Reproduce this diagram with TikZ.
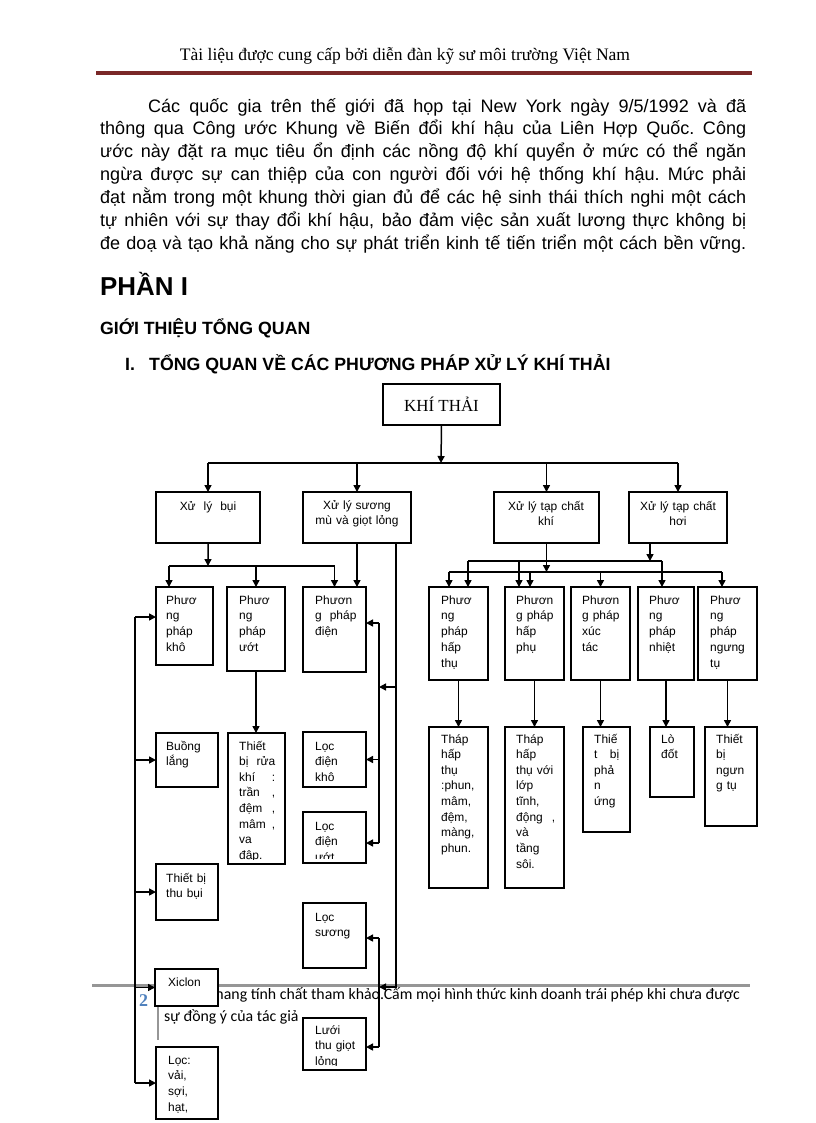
\documentclass[tikz,border=0pt]{standalone}
\usepackage{fontspec}
\setmainfont{Liberation Sans}
\newfontfamily\headserif{Liberation Serif}
\newfontfamily\footfont{Carlito}
\usetikzlibrary{arrows.meta,positioning}
\definecolor{rulered}{RGB}{122,40,40}
\definecolor{pagenum}{RGB}{79,129,189}
\definecolor{footgray}{RGB}{150,150,150}
\newcommand\jline[2]{\leavevmode\hbox to #1{\spaceskip=.25em plus 1fil minus .05em\xspaceskip=\spaceskip #2}}
\tikzset{
  box/.style={draw,line width=1.6bp,fill=white,anchor=north west,inner sep=0pt,outer sep=0pt},
  txt/.style={anchor=base west,inner sep=0pt,align=left,text width=44bp,font=\fontsize{12}{16}\selectfont},
  talltxt/.style={txt,font=\fontsize{12}{15.7}\selectfont},
  ctxt/.style={anchor=base,inner sep=0pt,align=center,text width=104bp,font=\fontsize{12}{16}\selectfont},
  wire/.style={line width=1.5bp},
  arr/.style={wire,-{Triangle[length=7bp,width=7bp]}},
}
\begin{document}
\begin{tikzpicture}
	%%
  \fill[white] (0bp,0bp) rectangle (816bp,-1123bp);
  \useasboundingbox (0bp,0bp) rectangle (816bp,-1123bp);
  % page head
  \node (head) at (405bp,-60bp) [anchor=base,inner sep=0pt,font=\headserif\fontsize{17.6}{20}\selectfont] {Tài liệu được cung cấp bởi diễn đàn kỹ sư môi trường Việt Nam};
  \draw [rulered,line width=3.5bp] (96bp,-73bp) -- (752bp,-73bp);
  \node (para) at (100bp,-112bp) [anchor=base west,inner sep=0pt,align=left,text width=646bp,font=\fontsize{18.1}{23}\selectfont] {%
    \leavevmode\hspace*{48bp}\jline{598bp}{Các quốc gia trên thế giới đã họp tại New York ngày 9/5/1992 và đã}\\
    \jline{646bp}{thông qua Công ước Khung về Biến đổi khí hậu của Liên Hợp Quốc. Công}\\
    \jline{646bp}{ước này đặt ra mục tiêu ổn định các nồng độ khí quyển ở mức có thể ngăn}\\
    \jline{646bp}{ngừa được sự can thiệp của con người đối với hệ thống khí hậu. Mức phải}\\
    \jline{646bp}{đạt nằm trong một khung thời gian đủ để các hệ sinh thái thích nghi một cách}\\
    \jline{646bp}{tự nhiên với sự thay đổi khí hậu, bảo đảm việc sản xuất lương thực không bị}\\
    \jline{646bp}{đe doạ và tạo khả năng cho sự phát triển kinh tế tiến triển một cách bền vững.}};
  \node (part) at (100bp,-295bp) [anchor=base west,inner sep=0pt,font=\bfseries\fontsize{26}{30}\selectfont] {PHẦN I};
  \node (intro) at (100bp,-334bp) [anchor=base west,inner sep=0pt,font=\bfseries\fontsize{17.8}{20}\selectfont] {GIỚI THIỆU TỔNG QUAN};
  \node (secno) at (125bp,-370bp) [anchor=base west,inner sep=0pt,font=\bfseries\fontsize{17.8}{20}\selectfont] {I.};
  \node (sectitle) at (149bp,-370bp) [anchor=base west,inner sep=0pt,font=\bfseries\fontsize{17.8}{20}\selectfont] {TỔNG QUAN VỀ CÁC PHƯƠNG PHÁP XỬ LÝ KHÍ THẢI};
  % page foot
  \draw [footgray,line width=3bp] (92bp,-985bp) -- (750bp,-985bp);
  \draw [footgray,line width=2.5bp] (158bp,-1004bp) -- (158bp,-1040bp);
  \node (pgno) at (139bp,-1006bp) [anchor=base west,inner sep=0pt,text=pagenum,font=\headserif\bfseries\fontsize{18}{20}\selectfont] {2};
  \node (foot1) at (211bp,-999bp) [anchor=base west,inner sep=0pt,font=\footfont\fontsize{15.9}{18}\selectfont] {mang tính chất tham khảo.Cấm mọi hình thức kinh doanh trái phép khi chưa được};
  \node (foot2) at (164bp,-1021bp) [anchor=base west,inner sep=0pt,font=\footfont\fontsize{15.9}{18}\selectfont] {sự đồng ý của tác giả};
	%% boxes
  \node (kt) at (383bp,-384bp) [box,minimum width=117bp,minimum height=41bp,font=\headserif\fontsize{17}{20}\selectfont] {KHÍ THẢI};
  \node (bui) at (156bp,-492bp) [box,minimum width=104bp,minimum height=51bp] {};
  \node (suong) at (303bp,-492bp) [box,minimum width=108bp,minimum height=51bp] {};
  \node (khi) at (494bp,-492bp) [box,minimum width=105bp,minimum height=51bp] {};
  \node (hoi) at (629bp,-492bp) [box,minimum width=98bp,minimum height=51bp] {};
  \node (bui-t) at (208bp,-510bp) [ctxt] {Xử\ \ lý\ \ bụi};
  \node (suong-t) at (357bp,-509bp) [ctxt] {Xử lý sương\\mù và giọt lỏng};
  \node (khi-t) at (546bp,-510bp) [ctxt] {Xử lý tạp chất\\khí};
  \node (hoi-t) at (678bp,-510bp) [ctxt] {Xử lý tạp chất\\hơi};
  \node (pKho) at (156bp,-587bp) [box,minimum width=57bp,minimum height=78bp] {};
  \node (pUot) at (227bp,-587bp) [box,minimum width=58bp,minimum height=84bp] {};
  \node (pDien) at (303bp,-587bp) [box,minimum width=63bp,minimum height=85bp] {};
  \node (pKho-t) at (166bp,-604bp) [txt] {Phươ\\ng\\pháp\\khô};
  \node (pUot-t) at (239bp,-604bp) [txt] {Phươ\\ng\\pháp\\ướt};
  \node (pDien-t) at (315bp,-604bp) [txt] {Phươn\\g\ \ pháp\\điện};
  \node (pHapThu) at (429bp,-587bp) [box,minimum width=59bp,minimum height=93bp] {};
  \node (pHapPhu) at (505bp,-587bp) [box,minimum width=59bp,minimum height=93bp] {};
  \node (pXucTac) at (571bp,-587bp) [box,minimum width=59bp,minimum height=93bp] {};
  \node (pNhiet) at (638bp,-587bp) [box,minimum width=56bp,minimum height=93bp] {};
  \node (pNgung) at (698bp,-587bp) [box,minimum width=59bp,minimum height=93bp] {};
  \node (pHapThu-t) at (441bp,-604bp) [txt] {Phươ\\ng\\pháp\\hấp\\thụ};
  \node (pHapPhu-t) at (516bp,-604bp) [txt] {Phươn\\g pháp\\hấp\\phụ};
  \node (pXucTac-t) at (582bp,-604bp) [txt] {Phươn\\g pháp\\xúc\\tác};
  \node (pNhiet-t) at (649bp,-604bp) [txt] {Phươ\\ng\\pháp\\nhiệt};
  \node (pNgung-t) at (710bp,-604bp) [txt] {Phươ\\ng\\pháp\\ngưng\\tụ};
  \node (buong) at (156bp,-733bp) [box,minimum width=62bp,minimum height=54bp] {};
  \node (rua) at (228bp,-733bp) [box,minimum width=57bp,minimum height=131bp] {};
  \node (thuBui) at (156bp,-864bp) [box,minimum width=62bp,minimum height=56bp] {};
  \node (xiclon) at (155bp,-969bp) [box,minimum width=63bp,minimum height=37bp] {};
  \node (loc) at (156bp,-1047bp) [box,minimum width=62bp,minimum height=72bp] {};
  \node (buong-t) at (166bp,-750bp) [txt] {Buồng\\lắng};
  \begin{scope}
    \clip (rua.north west) rectangle ([yshift=5bp]rua.south east);
    \node (rua-t) at (239bp,-750bp) [talltxt,text width=36bp] {Thiết\\bị\hfill rửa\\khí\hfill :\\trần\hfill ,\\đệm\hfill ,\\mâm\hfill ,\\va\\đập.};
  \end{scope}
  \node (thuBui-t) at (166bp,-882bp) [txt] {Thiết bị\\thu bụi};
  \node (xiclon-t) at (168bp,-986bp) [txt] {Xiclon};
  \node (loc-t) at (168bp,-1064bp) [txt] {Lọc:\\vải,\\sợi,\\hạt,};
  \node (dienKho) at (303bp,-732bp) [box,minimum width=63bp,minimum height=55bp] {};
  \node (dienUot) at (303bp,-812bp) [box,minimum width=63bp,minimum height=51bp] {};
  \node (locSuong) at (303bp,-903bp) [box,minimum width=63bp,minimum height=65bp] {};
  \node (luoi) at (303bp,-1018bp) [box,minimum width=63bp,minimum height=52bp] {};
  \node (dienKho-t) at (315bp,-750bp) [txt] {Lọc\\điện\\khô};
  \begin{scope}
    \clip (dienUot.north west) rectangle ([yshift=5bp]dienUot.south east);
    \node (dienUot-t) at (315bp,-830bp) [txt] {Lọc\\điện\\ướt};
  \end{scope}
  \node (locSuong-t) at (315bp,-921bp) [txt] {Lọc\\sương};
  \begin{scope}
    \clip (luoi.north west) rectangle ([yshift=5bp]luoi.south east);
    \node (luoi-t) at (315bp,-1034bp) [txt] {Lưới\\thu giọt\\lỏng};
  \end{scope}
  \node (thapThu) at (429bp,-727bp) [box,minimum width=59bp,minimum height=161bp] {};
  \node (thapPhu) at (505bp,-727bp) [box,minimum width=59bp,minimum height=161bp] {};
  \node (phanUng) at (583bp,-727bp) [box,minimum width=47bp,minimum height=105bp] {};
  \node (loDot) at (650bp,-727bp) [box,minimum width=44bp,minimum height=70bp] {};
  \node (tbNgung) at (705bp,-727bp) [box,minimum width=52bp,minimum height=99bp] {};
  \node (thapThu-t) at (441bp,-743bp) [talltxt] {Tháp\\hấp\\thụ\\:phun,\\mâm,\\đệm,\\màng,\\phun.};
  \node (thapPhu-t) at (516bp,-743bp) [talltxt,text width=39bp] {Tháp\\hấp\\\mbox{thụ với}\\lớp\\tĩnh,\\động\hfill ,\\và\\tầng\\sôi.};
  \node (phanUng-t) at (594bp,-743bp) [talltxt,text width=25bp] {Thiế\\t\hfill bị\\phả\\n\\ứng};
  \node (loDot-t) at (661bp,-743bp) [talltxt] {Lò\\đốt};
  \node (tbNgung-t) at (716bp,-743bp) [talltxt] {Thiết\\bị\\ngưn\\g tụ};
	%% connectors
  \coordinate (busTop) at (441bp,-463bp);
  \draw [arr] (kt.south) -- (busTop);
  \draw [wire] (bui.north |- busTop) -- (hoi.north |- busTop);
  \draw [arr] (bui.north |- busTop) -- (bui.north);
  \draw [arr] (suong.north |- busTop) -- (suong.north);
  \draw [arr] (khi.north |- busTop) -- (khi.north);
  \draw [arr] (hoi.north |- busTop) -- (hoi.north);
  % dust branch
  \coordinate (busBui) at (208bp,-566bp);
  \coordinate (dKho) at ([xshift=-15.5bp]pKho.north);
  \draw [arr] (bui.south) -- (busBui);
  \draw [wire] (dKho |- busBui) -- (pDien.north |- busBui);
  \draw [arr] (dKho |- busBui) -- (dKho);
  \draw [arr] (pUot.north |- busBui) -- (pUot.north);
  \draw [arr] (pDien.north |- busBui) -- (pDien.north);
  \draw [arr] (suong.south) -- (suong.south |- pDien.north);
  \draw [arr] (pUot.south) -- (pUot.south |- rua.north);
  \coordinate (spLeft) at (135bp,-617bp);
  \draw [wire] (spLeft) -- (spLeft |- loc.west);
  \draw [arr] (spLeft) -- (spLeft -| pKho.west);
  \draw [arr] (spLeft |- buong.west) -- (buong.west);
  \draw [arr] (spLeft |- thuBui.west) -- (thuBui.west);
  \draw [arr] (spLeft |- xiclon.west) -- (xiclon.west);
  \draw [arr] (spLeft |- loc.west) -- (loc.west);
  % mist branch
  \coordinate (longTop) at ([xshift=-15bp]suong.south east);
  \coordinate (spUt) at (379bp,-623bp);
  \coordinate (spUb) at (379bp,-843bp);
  \coordinate (spUm) at (379bp,-687bp);
  \coordinate (spLt) at (379bp,-938bp);
  \coordinate (spLb) at (379bp,-1047bp);
  \coordinate (spLm) at (379bp,-987bp);
  \draw [wire] (spUt) -- (spUb);
  \draw [wire] (spLt) -- (spLb);
  \draw [arr] (longTop) -- (longTop |- spLm) -- (spLm);
  \draw [arr] (longTop |- spUm) -- (spUm);
  \draw [arr] (spUt) -- (spUt -| pDien.east);
  \draw [arr] (spUt |- dienKho.east) -- (dienKho.east);
  \draw [arr] (spUb) -- (spUb -| dienUot.east);
  \draw [arr] (spLt) -- (spLt -| locSuong.east);
  \draw [arr] (spLb) -- (spLb -| luoi.east);
  % gas and vapour branch
  \coordinate (busHi) at (650bp,-561bp);
  \coordinate (busLo) at (547bp,-572bp);
  \coordinate (dHoi) at ([xshift=-28bp]hoi.south);
  \draw [arr] (khi.south) -- (khi.south |- busLo);
  \draw [arr] (dHoi) -- (dHoi |- busHi);
  \coordinate (uThu) at ([xshift=9.5bp]pHapThu.north);
  \coordinate (uPhu) at ([xshift=-15.5bp]pHapPhu.north);
  \coordinate (uNhiet) at ([xshift=-4bp]pNhiet.north);
  \draw [wire] (uThu |- busHi) -- (uNhiet |- busHi);
  \draw [arr] (uThu |- busHi) -- (uThu);
  \draw [arr] (uPhu |- busHi) -- (uPhu);
  \draw [arr] (uNhiet |- busHi) -- (uNhiet);
  \coordinate (lThu) at ([xshift=-9.5bp]pHapThu.north);
  \coordinate (lPhu) at ([xshift=-4.5bp]pHapPhu.north);
  \coordinate (lNgung) at ([xshift=-5.5bp]pNgung.north);
  \draw [wire] (lThu |- busLo) -- (lNgung |- busLo);
  \draw [arr] (lThu |- busLo) -- (lThu);
  \draw [arr] (lPhu |- busLo) -- (lPhu);
  \draw [arr] (pXucTac.north |- busLo) -- (pXucTac.north);
  \draw [arr] (lNgung |- busLo) -- (lNgung);
  \draw [arr] (pHapThu.south) -- (pHapThu.south |- thapThu.north);
  \draw [arr] (pHapPhu.south) -- (pHapPhu.south |- thapPhu.north);
  \draw [arr] (pXucTac.south) -- (pXucTac.south |- phanUng.north);
  \draw [arr] (pNhiet.south) -- (pNhiet.south |- loDot.north);
  \draw [arr] (pNgung.south) -- (pNgung.south |- tbNgung.north);
		%
\end{tikzpicture}
\end{document}
